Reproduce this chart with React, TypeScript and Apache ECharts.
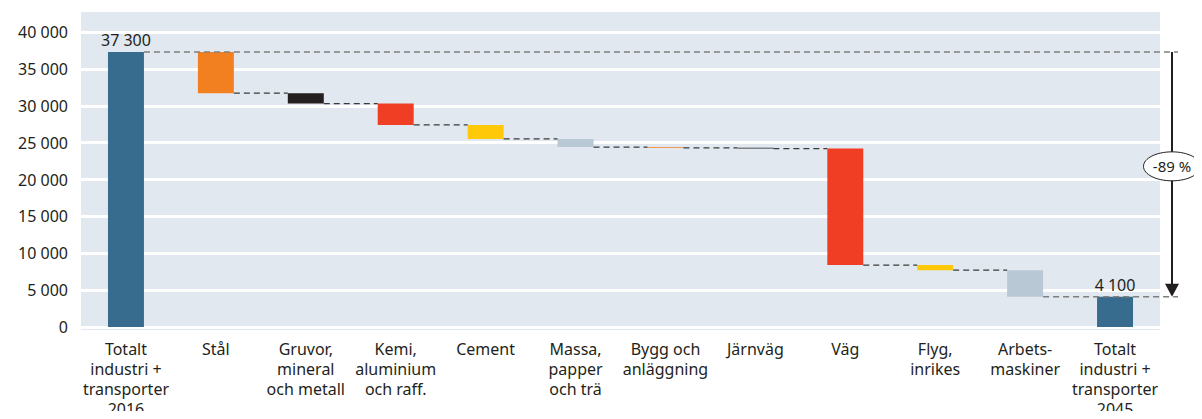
import React, { useEffect, useRef } from "react";
import * as echarts from "echarts";

const categories = [
  "Totalt\nindustri +\ntransporter\n2016",
  "Stål",
  "Gruvor,\nmineral\noch metall",
  "Kemi,\naluminium\noch raff.",
  "Cement",
  "Massa,\npapper\noch trä",
  "Bygg och\nanläggning",
  "Järnväg",
  "Väg",
  "Flyg,\ninrikes",
  "Arbets-\nmaskiner",
  "Totalt\nindustri +\ntransporter\n2045",
];
// start total, reductions, end total
const startTotal = 37300;
const reductions = [5600, 1400, 2900, 1900, 1100, 100, 100, 15800, 700, 3600];
const endTotal = 4100;
const changeLabel = "-89 %";
const yTicks = [0, 5000, 10000, 15000, 20000, 25000, 30000, 35000, 40000];

const totalColor = "#386c8e";
const stepColors = [
  "#f28021",
  "#231f20",
  "#ef3e23",
  "#ffc90a",
  "#b8c8d4",
  "#f28021",
  "#231f20",
  "#ef3e23",
  "#ffc90a",
  "#b8c8d4",
];

export default function App() {
  const ref = useRef<HTMLDivElement>(null);
  useEffect(() => {
    if (!ref.current) return;
    const chart = echarts.init(ref.current, null, { renderer: "svg" });

    // levels after each category
    const levels: number[] = [startTotal];
    let cur = startTotal;
    reductions.forEach((r) => {
      cur -= r;
      levels.push(cur);
    });
    levels.push(endTotal);

    const base: any[] = [0];
    const vis: any[] = [
      { value: startTotal, itemStyle: { color: totalColor } },
    ];
    let prev = startTotal;
    reductions.forEach((r, i) => {
      base.push(prev - r);
      vis.push({ value: r, itemStyle: { color: stepColors[i] } });
      prev -= r;
    });
    base.push(0);
    vis.push({ value: endTotal, itemStyle: { color: totalColor } });

    const fmt = (v: number) =>
      String(v).replace(/\B(?=(\d{3})+(?!\d))/g, " ");

    const connectorData: any[] = [];
    for (let i = 1; i < categories.length - 2; i++) {
      connectorData.push([i, levels[i], 0]);
    }
    connectorData.push([0, startTotal, 1]);
    connectorData.push([categories.length - 2, endTotal, 1]);

    const fontFamily = "'Noto Sans', sans-serif";

    chart.setOption({
      animation: false,
      grid: { left: 81, right: 42, top: 32, bottom: 89, containLabel: false },
      graphic: [
        {
          type: "rect",
          z: -10,
          silent: true,
          shape: { x: 81, y: 12, width: 1079, height: 318 },
          style: { fill: "#e1e8ef" },
        },
      ],
      xAxis: {
        type: "category",
        data: categories,
        axisLine: { show: false },
        axisTick: { show: false },
        axisLabel: {
          interval: 0,
          color: "#231f20",
          fontSize: 16,
          lineHeight: 20,
          fontFamily,
          margin: 12,
          verticalAlign: "top",
        },
      },
      yAxis: {
        type: "value",
        min: 0,
        max: 40000,
        interval: 5000,
        axisLine: { show: false },
        axisTick: { show: false },
        axisLabel: {
          color: "#231f20",
          fontSize: 16,
          fontFamily,
          margin: 13,
          formatter: (v: number) => (yTicks.includes(v) ? fmt(v) : ""),
        },
        splitLine: { lineStyle: { color: "#ffffff", width: 3 } },
      },
      series: [
        {
          type: "bar",
          stack: "w",
          data: base,
          barWidth: "40%",
          itemStyle: { color: "transparent" },
          silent: true,
        },
        {
          type: "bar",
          stack: "w",
          data: vis,
          barWidth: "40%",
          label: {
            show: true,
            position: "top",
            distance: 4,
            color: "#231f20",
            fontSize: 16,
            fontFamily,
            formatter: (p: any) =>
              p.dataIndex === 0 || p.dataIndex === categories.length - 1
                ? fmt(p.value)
                : "",
          },
        },
        {
          type: "custom",
          z: 5,
          silent: true,
          data: connectorData,
          renderItem: (params: any, api: any) => {
            const i = api.value(0);
            const lvl = api.value(1);
            const kind = api.value(2);
            const half = api.size([1, 0])[0] * 0.2;
            const band = api.size([1, 0])[0];
            const p1 = api.coord([i, lvl]);
            const x1 = p1[0] + half;
            let x2: number;
            if (kind === 0) {
              x2 = api.coord([i + 1, lvl])[0] - half;
            } else {
              const lastC = api.coord([categories.length - 1, lvl])[0];
              x2 = lastC + band / 2 + 18;
            }
            return {
              type: "line",
              shape: { x1, y1: p1[1], x2, y2: p1[1] },
              style: {
                stroke: kind === 1 ? "#7f7f7f" : "#3a3a3a",
                lineWidth: kind === 1 ? 1.5 : 1.2,
                lineDash: [6, 4],
              },
            };
          },
        },
        {
          type: "custom",
          z: 6,
          silent: true,
          data: [[categories.length - 1, startTotal, endTotal]],
          renderItem: (params: any, api: any) => {
            const band = api.size([1, 0])[0];
            const c = api.coord([api.value(0), api.value(1)]);
            const yTop = c[1];
            const yBot = api.coord([api.value(0), api.value(2)])[1];
            const ax = c[0] + band / 2 + 12;
            const midY = (yTop + yBot) / 2 - 8;
            return {
              type: "group",
              children: [
                {
                  type: "line",
                  shape: { x1: ax, y1: yTop, x2: ax, y2: yBot - 12 },
                  style: { stroke: "#231f20", lineWidth: 2 },
                },
                {
                  type: "polygon",
                  shape: {
                    points: [
                      [ax - 7, yBot - 13],
                      [ax + 7, yBot - 13],
                      [ax, yBot],
                    ],
                  },
                  style: { fill: "#231f20" },
                },
                {
                  type: "ellipse",
                  shape: { cx: ax, cy: midY, rx: 28.5, ry: 14.5 },
                  style: { fill: "#ffffff", stroke: "#231f20", lineWidth: 1 },
                },
                {
                  type: "text",
                  x: ax,
                  y: midY,
                  style: {
                    text: changeLabel,
                    fill: "#231f20",
                    fontSize: 15,
                    fontFamily,
                    align: "center",
                    verticalAlign: "middle",
                  },
                },
              ],
            };
          },
        },
      ],
    });
    return () => chart.dispose();
  }, []);
  return <div ref={ref} style={{ width: 1202, height: 419, margin: -8 }} />;
}
